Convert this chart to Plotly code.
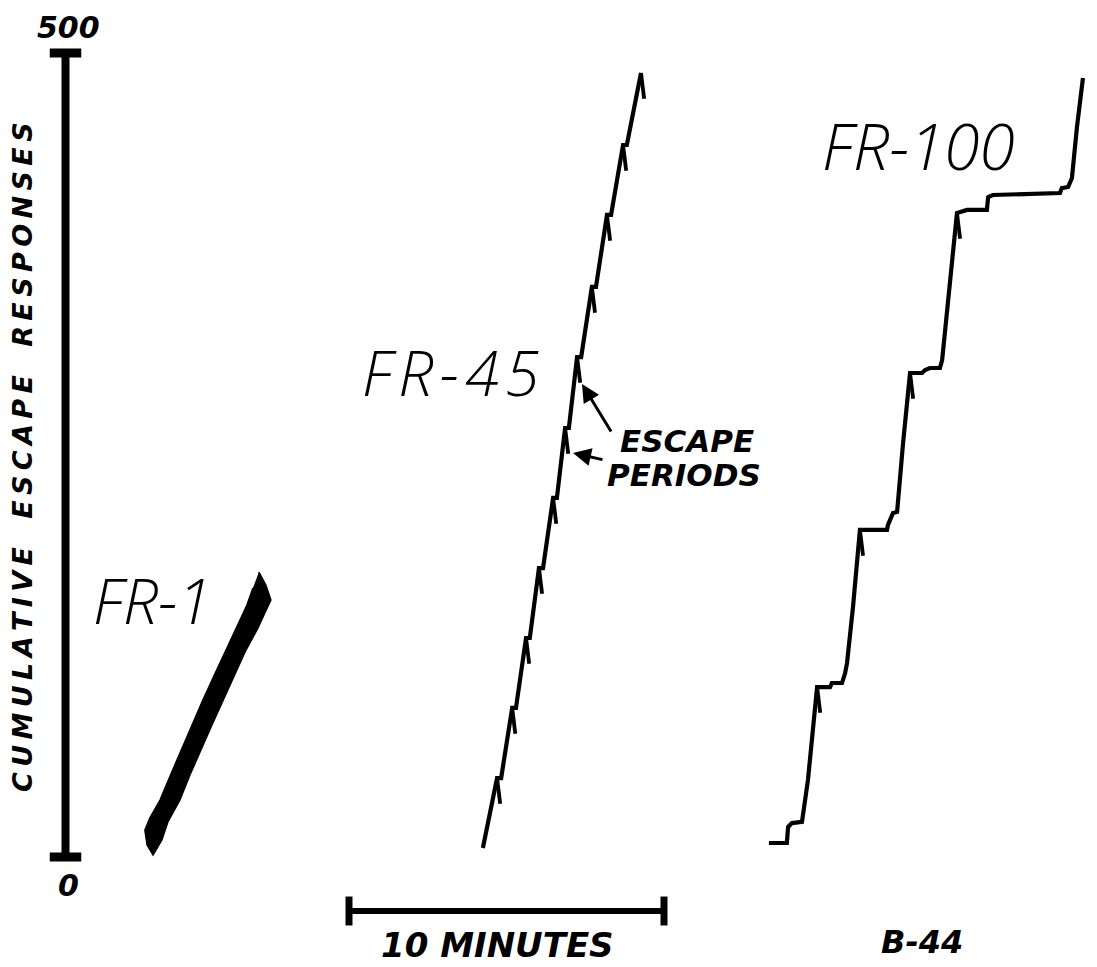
import plotly.graph_objects as go

# ---------------- data (minutes, cumulative escape responses) ----------------
# FR-1: dense record drawn as a solid band (outline of the band)
fr1_time = [-2.86, -2.64, -2.48, -2.89, -3.30, -3.65, -4.00, -4.35, -4.70, -5.05,
            -5.37, -5.75, -5.94, -6.22, -6.41, -6.48, -6.32, -6.00, -5.68, -5.33,
            -4.98, -4.64, -4.29, -3.94, -3.59, -3.24, -3.05]
fr1_resp = [177.2, 169.2, 159.8, 142.4, 127.5, 112.6, 97.6, 82.1, 66.5, 51.0,
            35.4, 21.8, 10.6, 1.2, 7.5, 16.8, 24.3, 35.4, 50.4, 66.5,
            82.1, 97.6, 112.6, 127.5, 142.4, 156.7, 167.3]

# FR-45 cumulative record
fr45_time = [4.25, 4.70, 4.83, 5.18, 5.30, 5.62, 5.74, 6.03, 6.16, 6.48, 6.60,
             6.86, 6.98, 7.24, 7.37, 7.71, 7.84, 8.19, 8.32, 8.70, 8.82, 9.27]
fr45_resp = [5.6, 49.1, 49.1, 92.7, 92.7, 136.2, 136.2, 179.7, 179.7, 223.3, 223.3,
             266.8, 266.8, 310.9, 310.9, 354.5, 354.5, 399.3, 399.3, 442.8, 442.8, 487.6]
fr45_escape_time = [4.70, 5.18, 5.62, 6.03, 6.48, 6.86, 7.24, 7.71, 8.19, 8.70, 9.27]
fr45_escape_resp = [49.1, 92.7, 136.2, 179.7, 223.3, 266.8, 310.9, 354.5, 399.3, 442.8, 487.6]

# FR-100 cumulative record
fr100_time = [13.33, 13.90, 13.94, 14.06, 14.38, 14.57, 14.86, 15.27, 15.33, 15.65,
              15.75, 15.81, 16.00, 16.22, 17.08, 17.11, 17.27, 17.40, 17.59, 17.81,
              18.19, 18.29, 18.44, 18.76, 18.83, 19.30, 19.62, 20.25, 20.29, 20.44,
              22.57, 22.63, 22.83, 22.95, 23.11, 23.30]
fr100_resp = [8.7, 8.7, 18.7, 21.1, 21.8, 47.9, 105.7, 105.7, 108.2, 108.2,
              114.4, 120.6, 155.5, 203.4, 203.4, 206.5, 213.9, 214.6, 257.5, 301.0,
              301.0, 302.9, 304.1, 304.1, 309.1, 400.5, 402.4, 402.4, 410.4, 411.7,
              412.9, 416.0, 416.7, 422.3, 454.0, 484.5]
fr100_escape_time = [14.86, 16.22, 17.81, 19.30]
fr100_escape_resp = [105.7, 203.4, 301.0, 400.5]

# scale bars
resp_scale = [0, 500]
resp_scale_labels = ["0", "500"]
time_scale = [0, 10]
time_scale_label = "10 MINUTES"
y_title_words = ["CUMULATIVE", "ESCAPE", "RESPONSES"]

# ---------------- layout helpers (pixel placement of the drawing) ----------------
W, H = 1097, 967
X0_PX, PX_PER_MIN = 349.0, 31.5
Y0_PX, PX_PER_RESP = 857.0, 1.608


def t_of(px):
    return (px - X0_PX) / PX_PER_MIN


def r_of(py):
    return (Y0_PX - py) / PX_PER_RESP


PIP_DT, PIP_DR = 0.10, -16.0
BAR_T = -9.0           # position of the response scale bar (minutes)
BAR_R = r_of(911)      # position of the time scale bar (responses)

fig = go.Figure()

# FR-1 band
fig.add_trace(go.Scatter(x=fr1_time, y=fr1_resp, mode="lines", fill="toself",
                         fillcolor="black", line=dict(color="black", width=1.5),
                         hoverinfo="skip"))


def add_record(ts, rs, et, er):
    fig.add_trace(go.Scatter(x=ts, y=rs, mode="lines",
                             line=dict(color="black", width=4.2), hoverinfo="skip"))
    px, py = [], []
    for t, r in zip(et, er):
        px += [t, t + PIP_DT, None]
        py += [r, r + PIP_DR, None]
    fig.add_trace(go.Scatter(x=px, y=py, mode="lines",
                             line=dict(color="black", width=3.8), hoverinfo="skip"))


add_record(fr45_time, fr45_resp, fr45_escape_time, fr45_escape_resp)
add_record(fr100_time, fr100_resp, fr100_escape_time, fr100_escape_resp)

# response scale bar with caps
fig.add_trace(go.Scatter(x=[BAR_T, BAR_T], y=resp_scale, mode="lines",
                         line=dict(color="black", width=8), hoverinfo="skip"))
cap_x, cap_y = [], []
for r in resp_scale:
    cap_x += [BAR_T - 0.5, BAR_T + 0.5, None]
    cap_y += [r, r, None]
fig.add_trace(go.Scatter(x=cap_x, y=cap_y, mode="lines",
                         line=dict(color="black", width=9), hoverinfo="skip"))

# time scale bar with caps
fig.add_trace(go.Scatter(x=time_scale, y=[BAR_R, BAR_R], mode="lines",
                         line=dict(color="black", width=6), hoverinfo="skip"))
tcap_x, tcap_y = [], []
for t in time_scale:
    tcap_x += [t, t, None]
    tcap_y += [BAR_R - 9, BAR_R + 9, None]
fig.add_trace(go.Scatter(x=tcap_x, y=tcap_y, mode="lines",
                         line=dict(color="black", width=7), hoverinfo="skip"))

BOLD = "DejaVu Sans"
THIN = "Open Sans, Lato, DejaVu Sans"
HAIR = "\u200a"
THINSP = "\u2009"

ann = []


def text(px, py, s, size, family, weight="normal", angle=0):
    ann.append(dict(x=t_of(px), y=r_of(py), xref="x", yref="y", text=s,
                    showarrow=False, textangle=angle,
                    font=dict(family=family, size=size, color="black",
                              weight=weight, style="italic")))


def spaced(s, sep):
    return sep.join(list(s))


y_title = "&nbsp;&nbsp;&nbsp;".join(spaced(w, THINSP) for w in y_title_words)

text(68, 27, resp_scale_labels[1], 30, BOLD, "bold")
text(68, 885, resp_scale_labels[0], 30, BOLD, "bold")
text(22, 457, y_title, 27, BOLD, "bold", -90)
text(152, 600, "FR-1", 62, THIN, 300)
text(450, 372, spaced("FR-45", HAIR), 62, THIN, 300)
text(918, 145, "FR-100", 64, THIN, 300)
text(687, 441, "ESCAPE", 31, BOLD, "bold")
text(684, 475, "PERIODS", 31, BOLD, "bold")
text(497, 945, time_scale_label, 34, BOLD, "bold")
text(922, 942, "B-44", 32, BOLD, "bold")

# arrows for ESCAPE PERIODS
for head, tail in [((582, 384), (612, 433)), ((573, 453), (604, 460))]:
    ann.append(dict(x=t_of(head[0]), y=r_of(head[1]), ax=t_of(tail[0]), ay=r_of(tail[1]),
                    xref="x", yref="y", axref="x", ayref="y", text="",
                    showarrow=True, arrowhead=2, arrowsize=1.2, arrowwidth=3,
                    arrowcolor="black"))

fig.update_layout(
    width=W, height=H, margin=dict(l=0, r=0, t=0, b=0),
    paper_bgcolor="white", plot_bgcolor="white", showlegend=False,
    xaxis=dict(visible=False, range=[t_of(0), t_of(W)], fixedrange=True),
    yaxis=dict(visible=False, range=[r_of(H), r_of(0)], fixedrange=True),
    annotations=ann,
)

fig.write_html("out.html", config={"displayModeBar": False},
               post_script="document.body.style.margin='0';document.body.style.overflow='hidden';")
